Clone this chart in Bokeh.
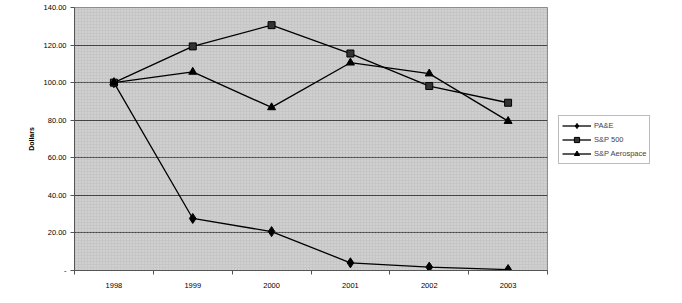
from bokeh.plotting import figure
from bokeh.layouts import row
from bokeh.models import (ColumnDataSource, FixedTicker, Legend, LegendItem,
                          BoxAnnotation)
from bokeh.embed import file_html
from bokeh.resources import INLINE

years = ["1998", "1999", "2000", "2001", "2002", "2003"]
pae = [100.0, 27.7, 20.7, 4.1, 1.8, 0.5]
sp500 = [100.0, 119.3, 130.6, 115.5, 98.2, 89.3]
sp_aero = [100.0, 105.7, 86.8, 110.6, 104.8, 79.5]
y_ticks = [0, 20, 40, 60, 80, 100, 120, 140]
series_names = ["PA&E", "S&P 500", "S&P Aerospace"]

xs = [i + 0.5 for i in range(len(years))]
font = "Liberation Sans"

p = figure(width=548, height=303, output_backend="svg", toolbar_location=None,
           x_range=(0, len(years)), y_range=(0, 140),
           min_border_left=74, min_border_right=1, min_border_top=7,
           min_border_bottom=33)

p.background_fill_color = "#c6c6c6"
p.border_fill_color = "white"
p.outline_line_color = "#8a8a8a"

stipple = BoxAnnotation(fill_color=None, fill_alpha=0, line_color=None,
                        hatch_pattern="dot", hatch_color="#ffffff",
                        hatch_scale=3, hatch_weight=1, hatch_alpha=0.45,
                        level="underlay")
p.add_layout(stipple)

p.xgrid.visible = False
p.ygrid.ticker = FixedTicker(ticks=y_ticks)
p.ygrid.grid_line_color = "#444444"
p.ygrid.grid_line_width = 1

src = ColumnDataSource(dict(x=xs, pae=pae, sp500=sp500, aero=sp_aero))
cols = ["pae", "sp500", "aero"]

line_kw = dict(line_color="black", line_width=1.3)
m_styles = [dict(marker="diamond", size=10, fill_color="black", line_color="black"),
            dict(marker="square", size=7, fill_color="#333333", line_color="black"),
            dict(marker="triangle", size=8, fill_color="black", line_color="black")]

for col, st in zip(cols, m_styles):
    p.line("x", col, source=src, **line_kw)
    p.scatter("x", col, source=src, **st)

# x axis: labels at category centres, tick marks between categories
p.xaxis.ticker = FixedTicker(ticks=xs, minor_ticks=list(range(len(years) + 1)))
p.xaxis.major_label_overrides = {x: y for x, y in zip(xs, years)}
p.xaxis.major_tick_out = 0
p.xaxis.major_tick_in = 0
p.xaxis.minor_tick_out = 4
p.xaxis.minor_tick_in = 0
p.xaxis.minor_tick_line_color = "#555555"
p.xaxis.axis_line_color = "#555555"
p.xaxis.major_label_text_font = font
p.xaxis.major_label_text_font_size = "7.5px"
p.xaxis.major_label_text_color = "black"
p.xaxis.major_label_standoff = 8

# y axis
p.yaxis.ticker = FixedTicker(ticks=y_ticks)
p.yaxis.major_label_overrides = {t: ("-" if t == 0 else f"{t:.2f}") for t in y_ticks}
p.yaxis.minor_tick_line_color = None
p.yaxis.major_tick_out = 4
p.yaxis.major_tick_in = 0
p.yaxis.major_tick_line_color = "#555555"
p.yaxis.axis_line_color = "#555555"
p.yaxis.major_label_text_font = font
p.yaxis.major_label_text_font_size = "7.5px"
p.yaxis.major_label_text_color = "black"
p.yaxis.major_label_standoff = 4
p.yaxis.axis_label = "Dollars"
p.yaxis.axis_label_text_font = font
p.yaxis.axis_label_text_font_size = "7px"
p.yaxis.axis_label_text_font_style = "bold"
p.yaxis.axis_label_text_color = "black"
p.yaxis.axis_label_standoff = 6

# legend panel: second figure whose ranges lie outside the data,
# so its copies of the series only feed the legend glyphs
p2 = figure(width=134, height=303, output_backend="svg", toolbar_location=None,
            x_range=(100, 101), y_range=(1000, 1001),
            x_axis_type=None, y_axis_type=None, min_border=0)
p2.outline_line_color = None
p2.grid.visible = False
p2.background_fill_color = "white"
p2.border_fill_color = "white"

items = []
for name, col, st in zip(series_names, cols, m_styles):
    lr = p2.line("x", col, source=src, **line_kw)
    mr = p2.scatter("x", col, source=src, **st)
    items.append(LegendItem(label=name, renderers=[lr, mr]))

legend = Legend(items=items, location=(10, 106))
legend.margin = 0
legend.padding = 3
legend.spacing = 1
legend.label_height = 13
legend.glyph_height = 13
legend.glyph_width = 29
legend.label_standoff = 3
legend.label_text_font = font
legend.label_text_font_size = "7.5px"
legend.border_line_color = "#777777"
legend.border_line_width = 1
legend.background_fill_color = "white"
p2.add_layout(legend)

layout = row(p, p2)
open("out.html", "w").write(file_html(layout, INLINE))
